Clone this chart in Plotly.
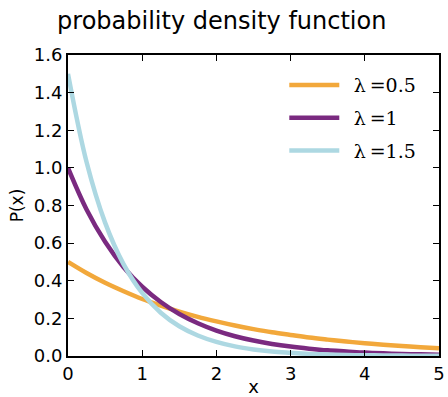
import plotly.graph_objects as go

x_vals = [0, 0.25, 0.5, 0.75, 1, 1.25, 1.5, 1.75, 2, 2.25, 2.5, 2.75, 3, 3.25, 3.5, 3.75, 4, 4.25, 4.5, 4.75, 5]
p_lam05 = [0.500, 0.441, 0.389, 0.344, 0.303, 0.268, 0.236, 0.208, 0.184, 0.162, 0.143, 0.126, 0.112, 0.098, 0.087, 0.077, 0.068, 0.060, 0.053, 0.047, 0.041]
p_lam1 = [1.000, 0.779, 0.607, 0.472, 0.368, 0.287, 0.223, 0.174, 0.135, 0.105, 0.082, 0.064, 0.050, 0.039, 0.030, 0.024, 0.018, 0.014, 0.011, 0.009, 0.007]
p_lam15 = [1.500, 1.031, 0.709, 0.487, 0.335, 0.230, 0.158, 0.109, 0.075, 0.051, 0.035, 0.024, 0.017, 0.011, 0.008, 0.005, 0.004, 0.003, 0.002, 0.001, 0.001]
series_names = ["\u2002λ\u2009=0.5", "\u2002λ\u2009=1", "\u2002λ\u2009=1.5"]
colors = ["#f2a83b", "#7a2a80", "#add8e2"]
x_ticks = [0, 1, 2, 3, 4, 5]
y_ticks = [0.0, 0.2, 0.4, 0.6, 0.8, 1.0, 1.2, 1.4, 1.6]

fig = go.Figure()
for i, (ys, name, c) in enumerate(zip([p_lam05, p_lam1, p_lam15], series_names, colors)):
    fig.add_trace(go.Scatter(x=x_vals, y=ys, mode="lines", name=name, legendgroup=f"g{i}",
                             line=dict(color=c, width=4.5, shape="spline", smoothing=1.0)))

axis_common = dict(showline=True, linecolor="black", linewidth=2, mirror="ticks",
                   ticks="inside", ticklen=6, tickwidth=1, tickcolor="black",
                   showgrid=False, zeroline=False, automargin=False,
                   tickfont=dict(family="DejaVu Sans", size=18, color="black"))

fig.update_xaxes(range=[0, 5], tickvals=x_ticks, ticktext=[str(v) for v in x_ticks],
                 title=dict(text="x", font=dict(family="DejaVu Sans", size=18, color="black")),
                 **axis_common)
fig.update_yaxes(range=[0, 1.6], tickvals=y_ticks, ticktext=[f"{v:.1f}" for v in y_ticks],
                 title=dict(text="P(x)", font=dict(family="DejaVu Sans", size=17, color="black"), standoff=6),
                 **axis_common)

fig.update_layout(
    width=448, height=397,
    margin=dict(l=68, r=9, t=55, b=41),
    paper_bgcolor="white", plot_bgcolor="white",
    title=dict(text="probability density function", x=0.495, xanchor="center", y=0.948, yanchor="middle",
               font=dict(family="DejaVu Sans", size=24, color="black")),
    legend=dict(x=0.583, y=0.963, xanchor="left", yanchor="top", bgcolor="rgba(0,0,0,0)",
                font=dict(family="DejaVu Serif", size=19, color="black"),
                traceorder="grouped", tracegroupgap=5, itemwidth=50),
    showlegend=True,
)

fig.write_html("out.html", config={"displayModeBar": False},
               post_script="document.body.style.margin='0';document.body.style.overflow='hidden';")
